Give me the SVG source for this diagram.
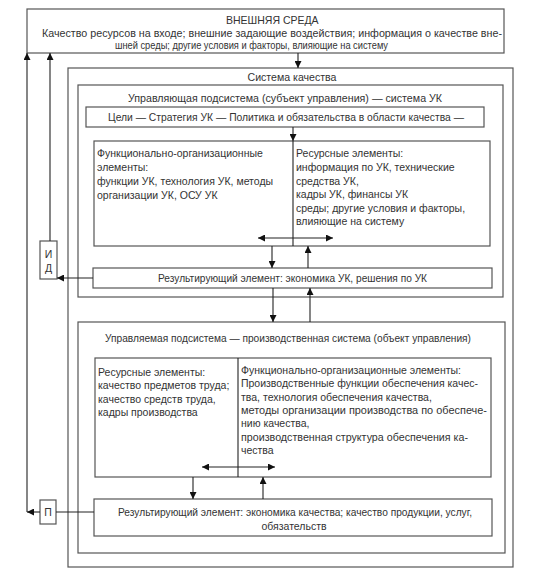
<svg xmlns="http://www.w3.org/2000/svg" width="537" height="575" viewBox="0 0 537 575">
<style>
.box{fill:#fff;stroke:#555;stroke-width:1.2}
.ln{fill:none;stroke:#222;stroke-width:1.1}
text{font-family:"Liberation Sans",Arial,sans-serif;font-size:10.5px;fill:#333}
.c{text-anchor:middle}
</style>
<defs>
<marker id="ah" viewBox="0 0 10 10" refX="10" refY="5" markerWidth="8" markerHeight="7" markerUnits="userSpaceOnUse" orient="auto-start-reverse">
<path d="M0,0 L10,5 L0,10 z" fill="#111"/>
</marker>
</defs>
<rect width="537" height="575" fill="#fff"/>

<g id="external">
<rect class="box" x="27" y="9" width="477" height="44"/>
<text x="226" y="24">ВНЕШНЯЯ СРЕДА</text>
<text x="42" y="37" textLength="460" lengthAdjust="spacingAndGlyphs">Качество ресурсов на входе; внешние задающие воздействия; информация о качестве вне-</text>
<text x="115" y="49" textLength="273" lengthAdjust="spacingAndGlyphs">шней среды; другие условия и факторы, влияющие на систему</text>
</g>

<g id="quality-system">
<rect class="box" x="68" y="68" width="445" height="499"/>
<text class="c" x="292" y="81" textLength="89" lengthAdjust="spacingAndGlyphs">Система качества</text>
</g>

<g id="managing-subsystem">
<rect class="box" x="78" y="85" width="425" height="212"/>
<text x="128" y="102" textLength="314" lengthAdjust="spacingAndGlyphs">Управляющая подсистема (субъект управления) — система УК</text>
</g>

<g id="goals">
<rect class="box" x="86" y="107" width="398" height="20"/>
<text x="108" y="121" textLength="356" lengthAdjust="spacingAndGlyphs">Цели — Стратегия УК — Политика и обязательства в области качества —</text>
</g>

<g id="managing-elements">
<rect class="box" x="94" y="141" width="396" height="105"/>
<line class="ln" x1="293" y1="141" x2="293" y2="246"/>
<text x="97" y="157">Функционально-организационные</text>
<text x="97" y="171">элементы:</text>
<text x="97" y="185">функции УК, технология УК, методы</text>
<text x="97" y="199">организации УК, ОСУ УК</text>
<text x="296" y="157">Ресурсные элементы:</text>
<text x="296" y="171">информация по УК, технические</text>
<text x="296" y="185">средства УК,</text>
<text x="296" y="198">кадры УК, финансы УК</text>
<text x="296" y="212">среды; другие условия и факторы,</text>
<text x="296" y="225">влияющие на систему</text>
</g>

<g id="managing-result">
<rect class="box" x="93" y="268" width="399" height="20"/>
<text x="158" y="282" textLength="269" lengthAdjust="spacingAndGlyphs">Результирующий элемент: экономика УК, решения по УК</text>
</g>

<g id="id-box">
<rect class="box" x="40" y="241" width="17" height="38"/>
<text class="c" x="48.5" y="258">И</text>
<text class="c" x="48.5" y="272">Д</text>
</g>

<g id="managed-subsystem">
<rect class="box" x="78" y="322" width="427" height="231"/>
<text x="105" y="342" textLength="366" lengthAdjust="spacingAndGlyphs">Управляемая подсистема — производственная система (объект управления)</text>
</g>

<g id="managed-elements">
<rect class="box" x="95" y="358" width="396" height="119"/>
<line class="ln" x1="238" y1="358" x2="238" y2="477"/>
<text x="98" y="376">Ресурсные элементы:</text>
<text x="98" y="389">качество предметов труда;</text>
<text x="98" y="403">качество средств труда,</text>
<text x="98" y="416">кадры производства</text>
<text x="241" y="374">Функционально-организационные элементы:</text>
<text x="241" y="387" textLength="237" lengthAdjust="spacingAndGlyphs">Производственные функции обеспечения качес-</text>
<text x="241" y="401">тва, технология обеспечения качества,</text>
<text x="241" y="414" textLength="246" lengthAdjust="spacingAndGlyphs">методы организации производства по обеспече-</text>
<text x="241" y="427">нию качества,</text>
<text x="241" y="441" textLength="227" lengthAdjust="spacingAndGlyphs">производственная структура обеспечения ка-</text>
<text x="241" y="454">чества</text>
</g>

<g id="managed-result">
<rect class="box" x="94" y="499" width="398" height="37"/>
<text x="118" y="516" textLength="354" lengthAdjust="spacingAndGlyphs">Результирующий элемент: экономика качества; качество продукции, услуг,</text>
<text class="c" x="294" y="530">обязательств</text>
</g>

<g id="p-box">
<rect class="box" x="40" y="500" width="16" height="24"/>
<text class="c" x="48" y="516">П</text>
</g>

<g id="connectors">
<line class="ln" x1="298" y1="53" x2="298" y2="68" marker-end="url(#ah)"/>
<line class="ln" x1="293" y1="127" x2="293" y2="141" marker-end="url(#ah)"/>
<line class="ln" x1="258" y1="238" x2="333" y2="238" marker-start="url(#ah)" marker-end="url(#ah)"/>
<line class="ln" x1="272" y1="246" x2="272" y2="268" marker-end="url(#ah)"/>
<line class="ln" x1="308" y1="268" x2="308" y2="246" marker-end="url(#ah)"/>
<line class="ln" x1="273" y1="288" x2="273" y2="322" marker-end="url(#ah)"/>
<line class="ln" x1="310" y1="322" x2="310" y2="288" marker-end="url(#ah)"/>
<line class="ln" x1="93" y1="278" x2="57" y2="278" marker-end="url(#ah)"/>
<line class="ln" x1="50" y1="241" x2="50" y2="53" marker-end="url(#ah)"/>
<line class="ln" x1="94" y1="512" x2="56" y2="512"/>
<line class="ln" x1="40" y1="512" x2="27" y2="512" marker-end="url(#ah)"/>
<line class="ln" x1="27" y1="512" x2="27" y2="53" marker-end="url(#ah)"/>
<line class="ln" x1="202" y1="467" x2="275" y2="467" marker-start="url(#ah)" marker-end="url(#ah)"/>
<line class="ln" x1="193" y1="477" x2="193" y2="499" marker-end="url(#ah)"/>
<line class="ln" x1="263" y1="499" x2="263" y2="477" marker-end="url(#ah)"/>
</g>
</svg>
